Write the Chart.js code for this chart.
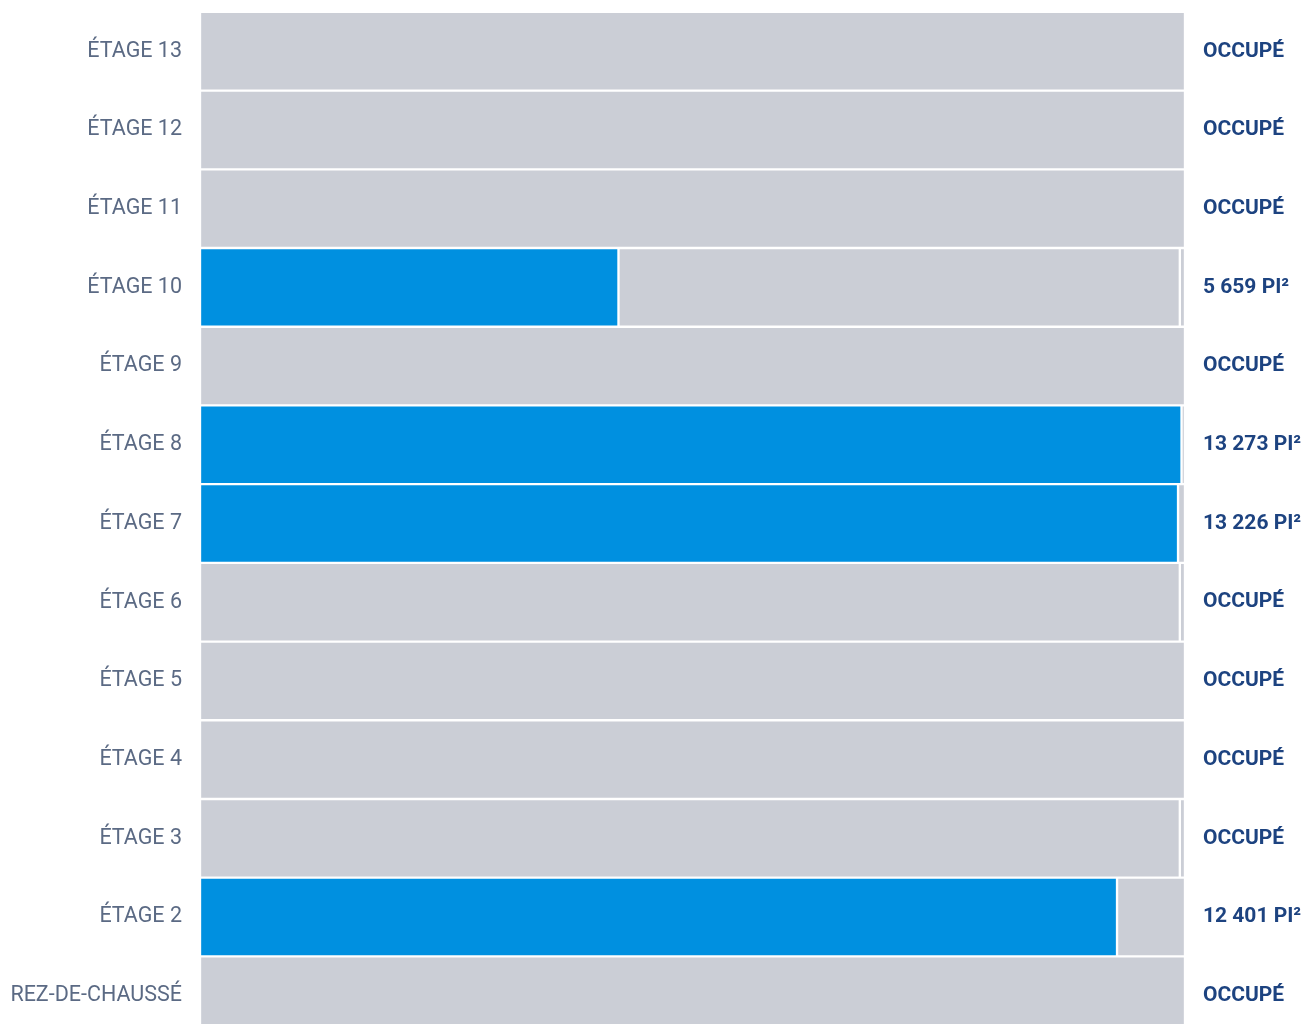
<!DOCTYPE html>
<html>
<head>
<meta charset="utf-8">
<script src="https://cdn.jsdelivr.net/npm/chart.js@4.4.1/dist/chart.umd.min.js"></script>
<style>
    html, body { margin: 0; padding: 0; background: #fff; overflow: hidden; }
    #wrap { width: 1305px; height: 1069px; position: relative; margin-top: -11px; }
</style>
</head>
<body>
<div id="wrap"><canvas id="floors"></canvas></div>
<script>
// floors, top to bottom
const floors = ['ÉTAGE 13', 'ÉTAGE 12', 'ÉTAGE 11', 'ÉTAGE 10', 'ÉTAGE 9', 'ÉTAGE 8', 'ÉTAGE 7',
    'ÉTAGE 6', 'ÉTAGE 5', 'ÉTAGE 4', 'ÉTAGE 3', 'ÉTAGE 2', 'REZ-DE-CHAUSSÉ'];
// available area (pi²)
const available = [0, 0, 0, 5659, 0, 13273, 13226, 0, 0, 0, 0, 12401, 0];
// occupied area (pi²)
const occupied = [13320, 13320, 13320, 7591, 13320, 0, 0, 13250, 13320, 13320, 13250, 919, 13320];
// small leftover piece at the end of some floors
const leftover = [0, 0, 0, 70, 0, 47, 94, 70, 0, 0, 70, 0, 0];
const rightLabels = ['OCCUPÉ', 'OCCUPÉ', 'OCCUPÉ', '5 659 PI²', 'OCCUPÉ', '13 273 PI²', '13 226 PI²',
    'OCCUPÉ', 'OCCUPÉ', 'OCCUPÉ', 'OCCUPÉ', '12 401 PI²', 'OCCUPÉ'];
const maxArea = 13320;

const barStyle = {
    borderColor: '#ffffff',
    borderWidth: 1.5,
    borderSkipped: false,
    barPercentage: 1,
    categoryPercentage: 1
};

new Chart(document.getElementById('floors').getContext('2d'), {
    type: 'bar',
    data: {
        labels: floors,
        datasets: [
            Object.assign({ label: 'Disponible', data: available, backgroundColor: '#0090e0' }, barStyle),
            Object.assign({ label: 'Occupé', data: occupied, backgroundColor: '#cbced6' }, barStyle),
            Object.assign({ label: 'Reste', data: leftover, backgroundColor: '#cbced6' }, barStyle)
        ]
    },
    options: {
        indexAxis: 'y',
        responsive: true,
        maintainAspectRatio: false,
        animation: false,
        layout: { padding: { top: 10, bottom: 10, left: 0, right: 0 } },
        plugins: {
            legend: { display: false },
            tooltip: { enabled: false }
        },
        scales: {
            x: {
                stacked: true,
                min: 0,
                max: maxArea,
                display: false
            },
            y: {
                stacked: true,
                position: 'left',
                grid: { display: false },
                border: { display: false },
                ticks: {
                    color: '#5b6a84',
                    padding: 10,
                    font: { family: 'Roboto', size: 21.5 }
                },
                afterFit: scale => { scale.width = 200; }
            },
            y2: {
                type: 'category',
                labels: rightLabels,
                position: 'right',
                offset: true,
                grid: { display: false },
                border: { display: false },
                ticks: {
                    color: '#1d4380',
                    padding: 10,
                    font: { family: 'Roboto', size: 21, weight: 'bold' }
                },
                afterFit: scale => { scale.width = 120; }
            }
        }
    }
});
</script>
</body>
</html>
